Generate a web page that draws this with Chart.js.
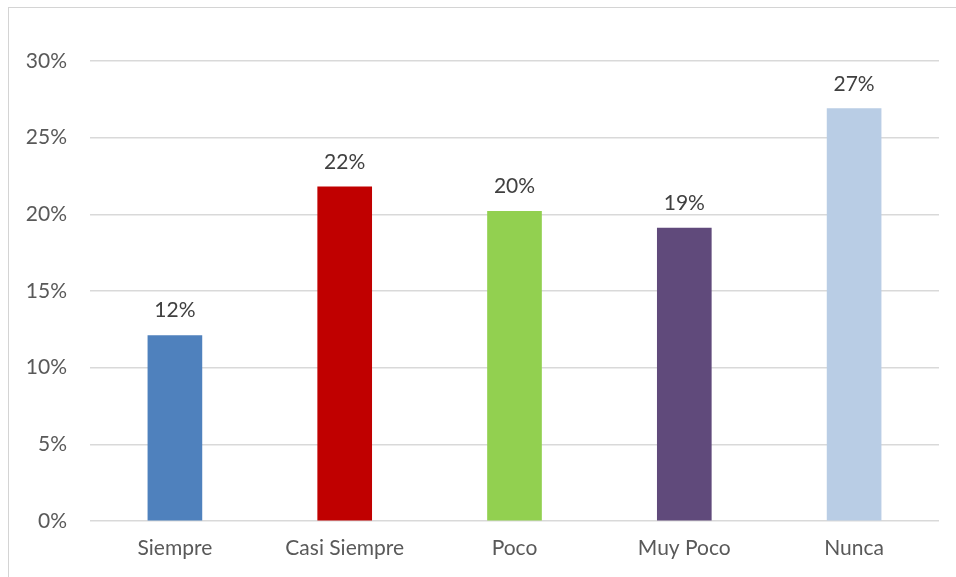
<!DOCTYPE html>
<html>
<head>
<meta charset="utf-8">
<script src="https://cdn.jsdelivr.net/npm/chart.js@4/dist/chart.umd.min.js"></script>
<style>
  html, body { margin: 0; padding: 0; background: #fff; overflow: hidden; }
  #wrap { position: relative; width: 956px; height: 577px; }
  #frame {
    position: absolute; left: 8px; top: 7px; width: 980px; height: 600px;
    border-left: 1px solid #d4d4d4; border-top: 1px solid #d4d4d4;
  }
  canvas { position: absolute; left: 0; top: 0; }
</style>
</head>
<body>
<div id="wrap">
  <div id="frame"></div>
  <canvas id="chart" width="956" height="577"></canvas>
</div>
<script>
// Data
const categories = ['Siempre', 'Casi Siempre', 'Poco', 'Muy Poco', 'Nunca'];
const values = [12.1, 21.8, 20.2, 19.1, 26.9];
const barColors = ['#4F81BD', '#C00000', '#92D050', '#604A7B', '#B9CDE5'];
const yTicks = [0, 5, 10, 15, 20, 25, 30];

const FONT = 'Lato, "Open Sans", sans-serif';

// Value labels above each bar
const barLabels = {
    id: 'barLabels',
    afterDatasetsDraw(chart) {
        const ctx = chart.ctx;
        const meta = chart.getDatasetMeta(0);
        ctx.save();
        ctx.font = '21px ' + FONT;
        ctx.fillStyle = '#404040';
        ctx.textAlign = 'center';
        ctx.textBaseline = 'alphabetic';
        meta.data.forEach((bar, i) => {
            ctx.fillText(Math.round(values[i]) + '%', bar.x, bar.y - 18);
        });
        ctx.restore();
    }
};

const ctx = document.getElementById('chart').getContext('2d');
const chart = new Chart(ctx, {
    type: 'bar',
    data: {
        labels: categories,
        datasets: [{
            data: values,
            backgroundColor: barColors,
            borderWidth: 0,
            barThickness: 54
        }]
    },
    options: {
        responsive: false,
        animation: false,
        events: [],
        layout: { padding: { left: 0, right: 17, top: 61, bottom: 0 } },
        plugins: {
            legend: { display: false },
            tooltip: { enabled: false }
        },
        scales: {
            x: {
                grid: { display: false, drawTicks: false },
                border: { display: false },
                ticks: {
                    color: '#595959',
                    font: { family: FONT, size: 21 },
                    padding: 15
                },
                afterFit: s => { s.height = 56; }
            },
            y: {
                min: 0,
                max: 30,
                grid: { color: '#d9d9d9', lineWidth: 1.5, drawTicks: false },
                border: { display: false },
                afterBuildTicks: s => { s.ticks = yTicks.map(v => ({ value: v })); },
                ticks: {
                    color: '#595959',
                    font: { family: FONT, size: 21 },
                    padding: 23,
                    callback: v => v + '%'
                },
                afterFit: s => { s.width = 90; }
            }
        }
    },
    plugins: [barLabels]
});
</script>
</body>
</html>
